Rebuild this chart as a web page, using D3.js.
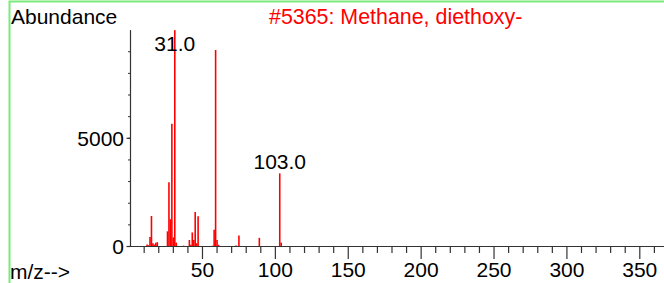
<!DOCTYPE html>
<html>
<head>
<meta charset="utf-8">
<script src="https://cdn.jsdelivr.net/npm/d3@7"></script>
<style>
  body { margin: 0; background: #fff; }
  svg { display: block; font-family: "Liberation Sans", Arial, sans-serif; }
</style>
</head>
<body>
<div id="chart"></div>
<script>
// spectrum data
var mzValues   = [12, 13, 14, 15, 16, 17, 18, 19, 26, 27, 28, 29, 30, 31, 32, 37, 41, 42, 43, 44, 45, 46, 47, 57, 58, 59, 60, 61, 73, 75, 89, 103, 104];
var abundances = [90, 60, 440, 1410, 150, 90, 170, 200, 700, 2970, 1260, 5670, 420, 9999, 180, 40, 300, 80, 650, 300, 1600, 150, 1400, 40, 770, 9080, 300, 80, 50, 510, 400, 3380, 180];
var labeledPeaks = [31, 103];
var xTickLabels = [50, 100, 150, 200, 250, 300, 350];
var xMinorTicks = d3.range(10, 361, 10);
var yTickLabels = [0, 5000];
var yMinorTicks = d3.range(1000, 10000, 1000);
var title = '#5365: Methane, diethoxy-';

var width = 664, height = 283;
var fontSize = 21;

var svg = d3.select('#chart').append('svg')
            .attr('width', width).attr('height', height);

// frame of the window (green, only top and left shown)
svg.append('path')
   .attr('d', 'M9.5,' + height + 'V1.5H' + width)
   .attr('fill', 'none')
   .attr('stroke', '#7aeb7a')
   .attr('stroke-width', 2);

var x = d3.scaleLinear().domain([0, 366.6]).range([129.6, 664]);
var y = d3.scaleLinear().domain([0, 10000]).range([246.5, 30.1]);

// bars
var peaks = mzValues.map(function (m, i) { return {mz: m, ab: abundances[i]}; });
svg.append('g').selectAll('line').data(peaks).enter().append('line')
   .attr('x1', function (d) { return x(d.mz); })
   .attr('x2', function (d) { return x(d.mz); })
   .attr('y1', y(0))
   .attr('y2', function (d) { return y(Math.min(d.ab, 10000)); })
   .attr('stroke', '#ff0000')
   .attr('stroke-width', 1.6);

// x axis
var xAxisG = svg.append('g').attr('transform', 'translate(0,' + y(0) + ')');
xAxisG.append('line').attr('x1', x(0)).attr('x2', width)
      .attr('stroke', '#333').attr('stroke-width', 1.2);
xAxisG.selectAll('.minor').data(xMinorTicks).enter().append('line')
      .attr('class', 'minor')
      .attr('x1', function (d) { return x(d); }).attr('x2', function (d) { return x(d); })
      .attr('y1', 0)
      .attr('y2', function (d) { return d % 50 === 0 ? 12.5 : 6.5; })
      .attr('stroke', '#333').attr('stroke-width', 1.2);
xAxisG.selectAll('text').data(xTickLabels).enter().append('text')
      .attr('x', function (d) { return x(d); })
      .attr('y', 30.5)
      .attr('text-anchor', 'middle')
      .style('font-size', fontSize + 'px')
      .text(function (d) { return d; });

// y axis
var yAxisG = svg.append('g').attr('transform', 'translate(130.5,0)');
yAxisG.append('line').attr('y1', y(10000)).attr('y2', y(0))
      .attr('stroke', '#333').attr('stroke-width', 1.2);
yAxisG.selectAll('.minor').data(yMinorTicks).enter().append('line')
      .attr('class', 'minor')
      .attr('y1', function (d) { return y(d); }).attr('y2', function (d) { return y(d); })
      .attr('x1', -2.5).attr('x2', 0)
      .attr('stroke', '#333').attr('stroke-width', 1);
yAxisG.selectAll('.major').data(yTickLabels).enter().append('line')
      .attr('class', 'major')
      .attr('y1', function (d) { return y(d); }).attr('y2', function (d) { return y(d); })
      .attr('x1', -4).attr('x2', 0)
      .attr('stroke', '#333').attr('stroke-width', 1.2);
yAxisG.selectAll('text').data(yTickLabels).enter().append('text')
      .attr('x', -6.5)
      .attr('y', function (d) { return y(d) + 7.5; })
      .attr('text-anchor', 'end')
      .style('font-size', fontSize + 'px')
      .text(function (d) { return d; });

// peak labels
svg.selectAll('.peaklabel').data(peaks.filter(function (d) { return labeledPeaks.indexOf(d.mz) !== -1; }))
   .enter().append('text')
   .attr('class', 'peaklabel')
   .attr('x', function (d) { return x(d.mz); })
   .attr('y', function (d) { return Math.max(y(d.ab) - 4, y(10000) + 20.5); })
   .attr('text-anchor', 'middle')
   .style('font-size', fontSize + 'px')
   .text(function (d) { return d.mz.toFixed(1); });

// titles
svg.append('text').attr('x', 11).attr('y', 24)
   .style('font-size', fontSize + 'px').text('Abundance');
svg.append('text').attr('x', 269).attr('y', 24)
   .style('font-size', '21.4px').attr('fill', '#ff0000').text(title);
svg.append('text').attr('x', 10).attr('y', 279)
   .style('font-size', fontSize + 'px').text('m/z-->');
</script>
</body>
</html>
